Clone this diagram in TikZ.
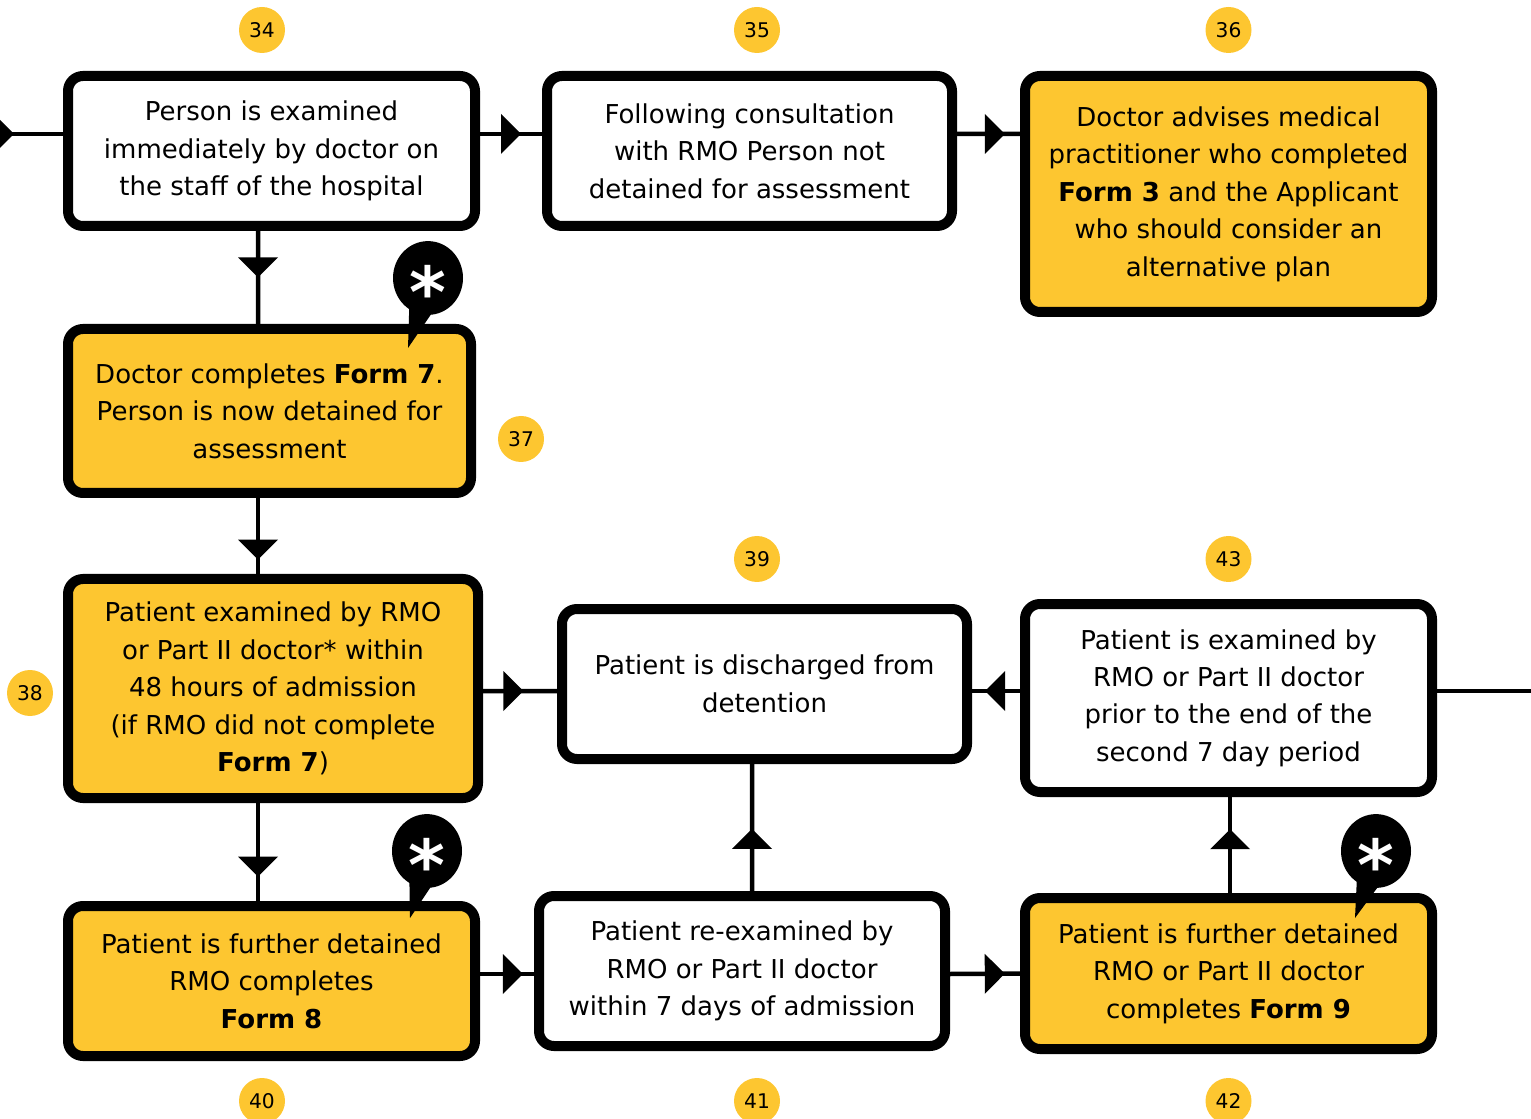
\documentclass[tikz,border=0pt]{standalone}
\usepackage{fontspec}
\setmainfont{DejaVu Sans}
\usepackage{xcolor}
\usetikzlibrary{shapes, arrows, decorations.markings, positioning, calc}
\definecolor{formyellow}{RGB}{253,198,48}
\tikzset{
    box/.style={
        rectangle,
        rounded corners=0.3cm,
        draw=black,
        line width=0.2cm,
        fill=white,
        align=center,
        inner sep=0pt,
        font=\fontsize{14.8}{21.3}\selectfont,
    },
    formbox/.style={
        box,
        fill=formyellow,
    },
    num/.style={
        circle,
        fill=formyellow,
        minimum size=0.92cm,
        inner sep=0pt,
        font=\fontsize{11.5}{13}\selectfont,
    },
    bubble/.style={
        ellipse,
        fill=black,
        text=white,
        minimum width=1.4cm,
        minimum height=1.0cm,
        inner sep=0pt,
        font=\fontsize{40}{40}\selectfont\bfseries,
    },
    link/.style={
        line width=0.09cm,
    },
    flow/.style={
        link,
        postaction={decorate},
        decoration={markings, mark=at position #1 with {\fill (-0.2,-0.4) -- (0.2,0) -- (-0.2,0.4) -- cycle;}},
    },
    flow/.default=0.5,
}
\newcommand{\calloutstar}{\raisebox{-0.26cm}[\height][\depth]{*}}

\begin{document}
\begin{tikzpicture}[node distance=2cm, on grid]
      \useasboundingbox (0,0) rectangle (30.62,-22.38);
      \clip (0,0) rectangle (30.62,-22.38);

      % top row
      \node[box, minimum width=8.14cm, minimum height=3cm] (b34) at (5.43,-3.02)
        {Person is examined\\immediately by doctor on\\the staff of the hospital};
      \node[box, minimum width=8.1cm, minimum height=3cm, right=9.56cm of b34] (b35)
        {Following consultation\\with RMO Person not\\detained for assessment};
      \node[formbox, minimum width=8.14cm, minimum height=4.72cm, below right=0.86cm and 9.58cm of b35] (b36)
        {Doctor advises medical\\practitioner who completed\\\textbf{Form 3} and the Applicant\\who should consider an\\alternative plan};

      % left column
      \node[formbox, minimum width=8.06cm, minimum height=3.28cm, below=5.2cm of b34, xshift=-0.04cm] (b37)
        {Doctor completes \textbf{Form 7}.\\Person is now detained for\\assessment};
      \node[formbox, minimum width=8.2cm, minimum height=4.38cm, below=5.55cm of b37, xshift=0.07cm] (b38)
        {Patient examined by RMO\\or Part II doctor* within\\48 hours of admission\\(if RMO did not complete\\\textbf{Form 7})};
      \node[formbox, minimum width=8.14cm, minimum height=3cm, below=5.85cm of b38, xshift=-0.03cm] (b40)
        {Patient is further detained\\RMO completes\\\textbf{Form 8}};

      % middle and right
      \node[box, minimum width=8.1cm, minimum height=3cm, above right=0.09cm and 9.83cm of b38] (b39)
        {Patient is discharged from\\detention};
      \node[box, minimum width=8.14cm, minimum height=3.76cm, below right=0.28cm and 9.28cm of b39] (b43)
        {Patient is examined by\\RMO or Part II doctor\\prior to the end of the\\second 7 day period};
      \node[box, minimum width=8.12cm, minimum height=3cm, above right=0.2cm and 9.41cm of b40] (b41)
        {Patient re-examined by\\RMO or Part II doctor\\within 7 days of admission};
      \node[formbox, minimum width=8.14cm, minimum height=3.02cm, below right=0.05cm and 9.73cm of b41] (b42)
        {Patient is further detained\\RMO or Part II doctor\\completes \textbf{Form 9}};

      % step numbers
      \node[num, above=2.42cm of b34, xshift=-0.19cm] (n34) {34};
      \node[num, above=2.42cm of b35, xshift=0.15cm] (n35) {35};
      \node[num, above=3.28cm of b36] (n36) {36};
      \node[num, right=5.03cm of b37, yshift=-0.56cm] (n37) {37};
      \node[num, left=4.86cm of b38, yshift=-0.09cm] (n38) {38};
      \node[num, above=2.5cm of b39, xshift=-0.15cm] (n39) {39};
      \node[num, above=2.78cm of b43] (n43) {43};
      \node[num, below=2.4cm of b40, xshift=-0.19cm] (n40) {40};
      \node[num, below=2.6cm of b41, xshift=0.3cm] (n41) {41};
      \node[num, below=2.55cm of b42] (n42) {42};

      % ends off the page
      \coordinate[left=6.53cm of b34, yshift=0.34cm] (in);
      \coordinate[right=6.6cm of b43, yshift=0.14cm] (out);

      % connectors
      \draw[flow] (in) -- ([yshift=0.34cm]b34.west);
      \draw[flow] ([yshift=0.34cm]b34.east) -- ([yshift=0.34cm]b35.west);
      \draw[flow=0.6] ([yshift=0.34cm]b35.east) -- ([yshift=1.2cm]b36.west);
      \draw[flow=0.39] ([xshift=-0.27cm]b34.south) -- ([xshift=-0.23cm]b37.north);
      \draw[flow=0.68] ([xshift=-0.23cm]b37.south) -- ([xshift=-0.3cm]b38.north);
      \draw[flow=0.65] ([xshift=-0.3cm]b38.south) -- ([xshift=-0.27cm]b40.north);
      \draw[flow=0.41] ([yshift=-0.05cm]b38.east) -- ([yshift=-0.14cm]b39.west);
      \draw[flow=0.52] ([yshift=0.14cm]b43.west) -- ([yshift=-0.14cm]b39.east);
      \draw[link] ([yshift=0.14cm]b43.east) -- (out);
      \draw[flow=0.61] ([yshift=0.14cm]b40.east) -- ([yshift=-0.06cm]b41.west);
      \draw[flow=0.64] ([yshift=-0.06cm]b41.east) -- (b42.west);
      \draw[flow=0.41] ([xshift=0.2cm]b41.north) -- ([xshift=-0.25cm]b39.south);
      \draw[flow=0.56] ([xshift=0.03cm]b42.north) -- ([xshift=0.03cm]b43.south);

      % asterisk callouts
      \coordinate (c37) at ([xshift=3.17cm, yshift=0.92cm]b37.north);
      \fill ([shift={(-0.36,-0.1)}]c37) -- ([shift={(-0.4,-1.4)}]c37) -- ([shift={(0.42,-0.2)}]c37) -- cycle;
      \node[bubble] (s37) at (c37) {\calloutstar};
      \coordinate (c40) at ([xshift=3.11cm, yshift=1.0cm]b40.north);
      \fill ([shift={(-0.36,-0.1)}]c40) -- ([shift={(-0.34,-1.34)}]c40) -- ([shift={(0.42,-0.2)}]c40) -- cycle;
      \node[bubble] (s40) at (c40) {\calloutstar};
      \coordinate (c42) at ([xshift=2.95cm, yshift=0.84cm]b42.north);
      \fill ([shift={(-0.36,-0.1)}]c42) -- ([shift={(-0.42,-1.34)}]c42) -- ([shift={(0.42,-0.2)}]c42) -- cycle;
      \node[bubble] (s42) at (c42) {\calloutstar};

    \end{tikzpicture}
\end{document}
